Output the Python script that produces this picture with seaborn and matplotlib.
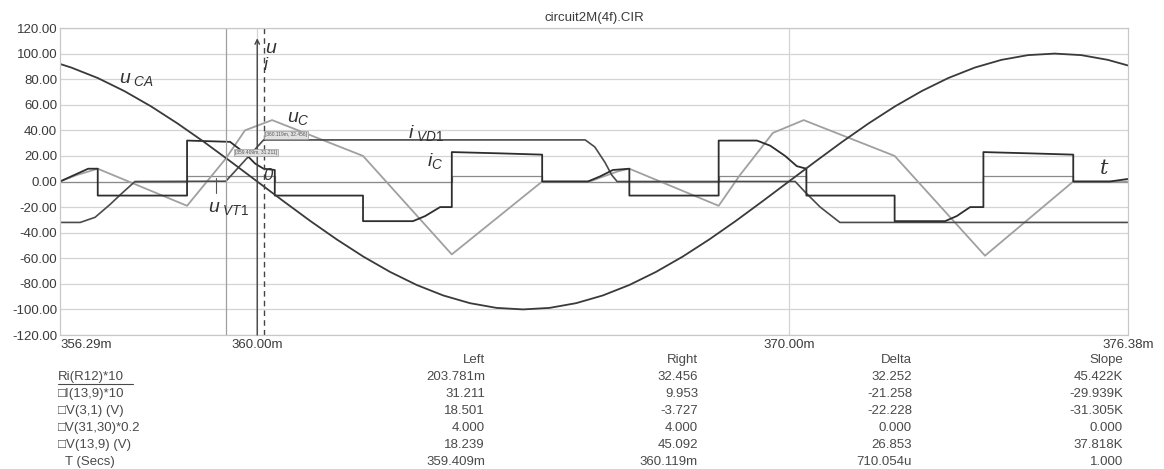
import numpy as np
import pandas as pd
import matplotlib
matplotlib.use("Agg")
import matplotlib.pyplot as plt
from matplotlib.lines import Line2D
import seaborn as sns

# ---- data (time in ms) ----
t_uca = [356.29, 356.5, 357.0, 357.5, 358.0, 358.5, 359.0, 359.5, 360.0, 360.5,
         361.0, 361.5, 362.0, 362.5, 363.0, 363.5, 364.0, 364.5, 365.0, 365.5,
         366.0, 366.5, 367.0, 367.5, 368.0, 368.5, 369.0, 369.5, 370.0, 370.5,
         371.0, 371.5, 372.0, 372.5, 373.0, 373.5, 374.0, 374.5, 375.0, 375.5,
         376.0, 376.38]
uca = [91.9, 89.1, 80.9, 70.7, 58.8, 45.4, 30.9, 15.6, 0.0, -15.6,
       -30.9, -45.4, -58.8, -70.7, -80.9, -89.1, -95.1, -98.8, -100.0, -98.8,
       -95.1, -89.1, -80.9, -70.7, -58.8, -45.4, -30.9, -15.6, 0.0, 15.6,
       30.9, 45.4, 58.8, 70.7, 80.9, 89.1, 95.1, 98.8, 100.0, 98.8,
       95.1, 90.7]

t_ic = [356.29, 356.82, 357.0, 357.0, 358.68, 358.68, 359.49, 359.77, 359.96, 360.12,
        360.33, 360.33, 361.99, 361.99, 362.93, 363.16, 363.44, 363.66, 363.66, 364.57,
        365.36, 365.36, 366.22, 366.45, 366.69, 367.0, 367.0, 368.68, 368.68, 369.40,
        369.65, 369.93, 370.15, 370.33, 370.33, 371.99, 371.99, 372.94, 373.16, 373.41,
        373.66, 373.66, 374.54, 375.35, 375.35, 376.04, 376.38]
ic = [0, 10, 10, -11, -11, 32, 31, 22, 14, 10,
      9, -11, -11, -31, -31, -27, -20, -20, 23, 22,
      21, 0, 0, 4, 9, 10, -11, -11, 32, 32,
      28, 20, 12, 10, -11, -11, -31, -31, -27, -20,
      -20, 23, 22, 21, 0, 0, 2]

t_ivd = [356.29, 356.67, 356.95, 357.23, 357.46, 357.70, 359.41, 360.12, 366.17, 366.35,
         366.54, 366.67, 366.77, 370.12, 370.30, 370.59, 370.96, 376.38]
ivd = [-32, -32, -28, -18, -9, 0, 0.2, 32.5, 32.5, 27,
       15, 5, 0, 0, -8, -20, -32, -32]

t_uc = [356.29, 356.6, 357.0, 358.68, 359.41, 359.77, 360.28, 361.99, 363.66, 365.36,
        366.26, 366.45, 366.79, 367.0, 368.68, 369.08, 369.70, 370.28, 371.99, 373.69,
        375.35, 376.38]
uc = [0, 5, 10, -19, 18, 40, 48, 20, -57, 0,
      0, 3, 8, 10, -19, 5, 38, 48, 20, -58,
      0, 0]

t_gate = [356.29, 358.68, 358.68, 360.33, 360.33, 363.66, 363.66, 365.36, 365.36, 368.68,
          368.68, 370.33, 370.33, 373.66, 373.66, 375.35, 375.35, 376.38]
gate = [0, 0, 4, 4, 0, 0, 4, 4, 0, 0,
        4, 4, 0, 0, 4, 4, 0, 0]

yticks = [-120, -100, -80, -60, -40, -20, 0, 20, 40, 60, 80, 100, 120]
xtick_pos = [356.29, 360.0, 370.0, 376.38]
xtick_lab = ['356.29m', '360.00m', '370.00m', '376.38m']

row_names = ['Ri(R12)*10', '\u25a1I(13,9)*10', '\u25a1V(3,1) (V)', '\u25a1V(31,30)*0.2',
             '\u25a1V(13,9) (V)', '  T (Secs)']
col_heads = ['Left', 'Right', 'Delta', 'Slope']
left_vals = ['203.781m', '31.211', '18.501', '4.000', '18.239', '359.409m']
right_vals = ['32.456', '9.953', '-3.727', '4.000', '45.092', '360.119m']
delta_vals = ['32.252', '-21.258', '-22.228', '0.000', '26.853', '710.054u']
slope_vals = ['45.422K', '-29.939K', '-31.305K', '0.000', '37.818K', '1.000']

cursor_left = 359.409
cursor_right = 360.119

sns.set_theme(style="white")
plt.rcParams['font.family'] = ['Liberation Sans', 'DejaVu Sans']
plt.rcParams['mathtext.fontset'] = 'custom'
plt.rcParams['mathtext.rm'] = 'Liberation Sans'
plt.rcParams['mathtext.it'] = 'Liberation Sans:italic'

W, H = 1164, 469
fig = plt.figure(figsize=(W / 100, H / 100), dpi=100)
ax = fig.add_axes([60 / W, 1 - 335 / H, (1128 - 60) / W, (335 - 28) / H])

# grid
for v in yticks:
    ax.axhline(v, color='#d4d4d4', lw=0.9, zorder=0)
for v in [360.0, 370.0]:
    ax.axvline(v, color='#d4d4d4', lw=0.9, zorder=0)

# traces
def draw(t, y, color, lw):
    df = pd.DataFrame({'t': t, 'y': y})
    sns.lineplot(data=df, x='t', y='y', estimator=None, sort=False,
                 color=color, lw=lw, ax=ax)

draw(t_gate, gate, '#8a8a8a', 0.9)
draw(t_uc, uc, '#a0a0a0', 1.3)
draw(t_ivd, ivd, '#4a4a4a', 1.2)
draw(t_ic, ic, '#2e2e2e', 1.3)
draw(t_uca, uca, '#3a3a3a', 1.3)

# cursors and u/i axis
ax.axvline(cursor_left, color='#a0a0a0', lw=0.9)
ax.axvline(cursor_right, color='#444444', lw=1.0, ls=(0, (4, 3)))
ax.annotate('', xy=(360.0, 112), xytext=(360.0, -120),
            arrowprops=dict(arrowstyle='->', color='#444444', lw=1.0,
                            shrinkA=0, shrinkB=0, mutation_scale=8))

# curve labels
lab = dict(color='#333333', ha='left', va='center')
ax.text(357.40, 80, r'$\mathit{u}_{\ \mathit{CA}}$', fontsize=14, **lab)
ax.text(360.56, 49, r'$\mathit{u}_{\mathit{C}}$', fontsize=14, **lab)
ax.text(362.84, 38, r'$\mathit{i}_{\ \mathit{VD1}}$', fontsize=14, **lab)
ax.text(363.19, 16, r'$\mathit{i}_{\mathit{C}}$', fontsize=14, **lab)
ax.text(359.07, -21, r'$\mathit{u}_{\ \mathit{VT1}}$', fontsize=14, **lab)
ax.plot([359.23, 359.23], [3, -9], color='#555555', lw=0.8)
ax.text(360.15, 104, 'u', fontsize=14, fontstyle='italic', **lab)
ax.text(360.13, 91, 'i', fontsize=13, fontstyle='italic', **lab)
ax.text(360.12, 5, '0', fontsize=12, fontstyle='italic', **lab)
ax.text(375.86, 10, 't', fontsize=15, fontstyle='italic', family='DejaVu Serif', **lab)

# cursor value tags
tag = dict(fontsize=3.5, color='#555555', ha='center', va='center',
           bbox=dict(boxstyle='square,pad=0.25', fc='#e2e2e2', ec='#9a9a9a', lw=0.5))
ax.text(359.98, 22.5, '[359.409m, 31.211]', **tag)
ax.text(360.54, 36.5, '[360.119m, 32.456]', **tag)

# axes styling
ax.set_xlim(356.29, 376.38)
ax.set_ylim(-120, 120)
ax.set_yticks(yticks)
ax.set_yticklabels([f'{v:.2f}' for v in yticks])
ax.set_xticks(xtick_pos)
ax.set_xticklabels(xtick_lab)
ax.tick_params(axis='both', length=0, labelsize=9.5, colors='#3a3a3a')
ax.tick_params(axis='y', pad=2)
ax.tick_params(axis='x', pad=3)
xl = ax.get_xticklabels()
xl[0].set_ha('left')
ax.set_xlabel('')
ax.set_ylabel('')
for s in ax.spines.values():
    s.set_color('#c8c8c8')
    s.set_linewidth(0.9)

fig.text(594 / W, 1 - 18 / H, 'circuit2M(4f).CIR', ha='center', va='center',
         fontsize=9.5, color='#3a3a3a')

# cursor readout table
col_x = [485, 698, 912, 1123]
row_y = [377, 394, 411, 428, 445, 462]
tcol = '#4a4a4a'
for cx, head in zip(col_x, col_heads):
    fig.text(cx / W, 1 - 360 / H, head, ha='right', va='center', fontsize=9.5, color=tcol)
for cx, vals in zip(col_x, [left_vals, right_vals, delta_vals, slope_vals]):
    for ry, v in zip(row_y, vals):
        fig.text(cx / W, 1 - ry / H, v, ha='right', va='center', fontsize=9.5, color=tcol)
for ry, name in zip(row_y, row_names):
    fig.text(58 / W, 1 - ry / H, name, ha='left', va='center', fontsize=9.5, color=tcol)
fig.add_artist(Line2D([58 / W, 133 / W], [1 - 384 / H, 1 - 384 / H], color=tcol, lw=0.8))

fig.savefig('out.png', dpi=100)
plt.close(fig)
